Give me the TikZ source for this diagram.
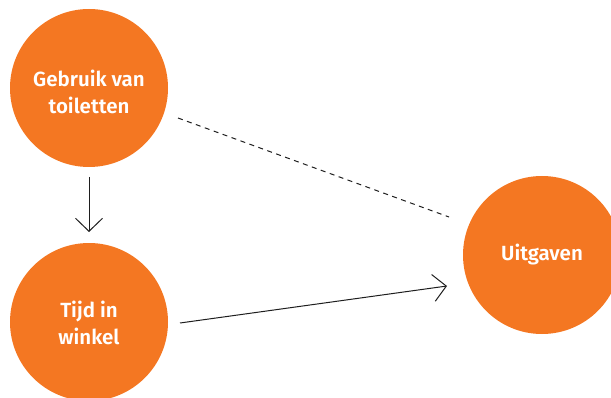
\documentclass[tikz,border=0pt]{standalone}
\usepackage{fontspec}
\setmainfont{Fira Sans}[BoldFont={Fira Sans SemiBold}]
\usetikzlibrary{arrows.meta,calc}
\definecolor{orng}{RGB}{244,119,34}
\definecolor{ink}{RGB}{30,30,30}
\newcommand{\lbl}[2]{\raisebox{#1}[\height][\depth]{\begin{tabular}{@{}c@{}}#2\end{tabular}}}
\begin{document}
\begin{tikzpicture}[x=1pt,y=1pt,
  bubble/.style={circle,fill=orng,minimum size=158pt,inner sep=0pt,text=white,
    font=\fontsize{20.5}{26.5}\selectfont\bfseries,align=center},
  link/.style={draw=ink,line width=1pt},
  tip/.style={-{Straight Barb[length=13pt,width=27pt,line width=1pt]}}]
\useasboundingbox (0,0) rectangle (611,397);
\clip (0,0) rectangle (611,397);
\node[bubble] (top) at (89,309) {\lbl{-6.5pt}{Gebruik van\\toiletten}};
\node[bubble] (bot) at (89,75) {\lbl{-3.5pt}{Tijd in\\winkel}};
\node[bubble] (right) at (542,142) {Uitgaven};
\draw[link,tip] ($(top.center)+(0,-89)$) -- ($(bot.center)+(0,90)$);
\draw[link,tip] ($(bot.center)+(91,-1)$) -- ($(right.center)+(-95,-31)$);
\draw[link,dash pattern=on 5pt off 4.5pt] ($(top.center)+(89,-30)$) -- ($(right.center)+(-93,38)$);
\end{tikzpicture}
\end{document}
